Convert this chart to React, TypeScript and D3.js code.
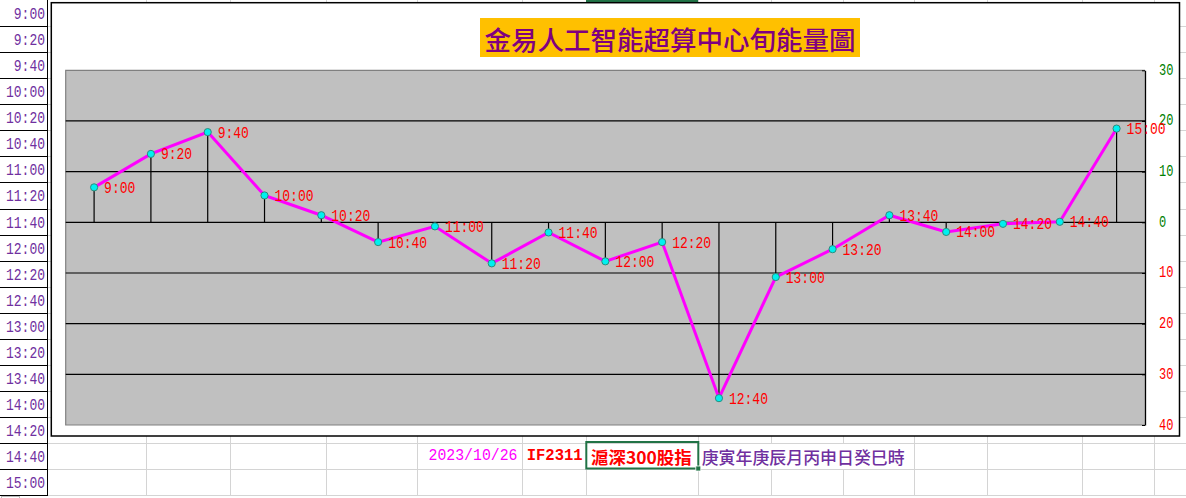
import React, { useEffect, useRef } from 'react';
import * as d3 from 'd3';

// time slots (also used as sheet row labels)
const times = [
  '9:00', '9:20', '9:40', '10:00', '10:20', '10:40', '11:00', '11:20', '11:40', '12:00',
  '12:20', '12:40', '13:00', '13:20', '13:40', '14:00', '14:20', '14:40', '15:00',
];
// energy per slot
const energy = [
  6.9, 13.5, 17.8, 5.3, 1.4, -3.9, -0.8, -8.1, -2.0, -7.7,
  -3.9, -34.7, -10.8, -5.3, 1.4, -1.9, -0.3, 0.1, 18.5,
];
const axisTicks = [30, 20, 10, 0, -10, -20, -30, -40];
const gridTicks = [20, 10, 0, -10, -20, -30];

const titleText = '金易人工智能超算中心旬能量圖';
const dateText = '2023/10/26';
const contractText = 'IF2311';
const indexText = '滬深300股指';
const ganzhiText = '庚寅年庚辰月丙申日癸巳時';

const W = 1186;
const H = 498;
const ROW_H = 26.07;
const sheetCols = [145.8, 229.6, 325.7, 416.8, 521.6, 586.3, 698.3, 770.8, 842.5, 914.3, 986.8, 1082, 1154];
const COL_A = 47.5;
const MONO = '"Liberation Mono", "DejaVu Sans Mono", monospace';
const CJK = '"Noto Sans CJK TC", "Noto Sans CJK SC", sans-serif';

const App: React.FC = () => {
  const svgRef = useRef<SVGSVGElement>(null);

  useEffect(() => {
    document.body.style.margin = '0';
    if (!svgRef.current) return;
    const svg = d3.select(svgRef.current);
    svg.selectAll('*').remove();

    svg.append('rect').attr('width', W).attr('height', H).attr('fill', '#fff');

    // spreadsheet grid
    const grid = svg.append('g').attr('shape-rendering', 'crispEdges');
    d3.range(1, 20).forEach(k => {
      const yy = Math.round(k * ROW_H) + 0.5;
      grid.append('line').attr('x1', COL_A).attr('x2', W).attr('y1', yy).attr('y2', yy)
        .attr('stroke', '#d4d4d4');
      grid.append('line').attr('x1', 0).attr('x2', COL_A).attr('y1', yy).attr('y2', yy)
        .attr('stroke', '#000');
    });
    sheetCols.forEach(cx => {
      const xx = Math.round(cx) + 0.5;
      d3.range(0, 19).forEach(r => {
        // text in row 17 overflows over these borders
        if (r === 17 && (cx === 770.8 || cx === 842.5)) return;
        grid.append('line').attr('x1', xx).attr('x2', xx)
          .attr('y1', r * ROW_H).attr('y2', (r + 1) * ROW_H)
          .attr('stroke', '#d4d4d4');
      });
    });
    grid.append('line').attr('x1', COL_A).attr('x2', COL_A).attr('y1', 0).attr('y2', 19 * ROW_H)
      .attr('stroke', '#000').attr('stroke-width', 1.5);
    grid.append('line').attr('x1', 586).attr('x2', 698).attr('y1', 0.75).attr('y2', 0.75)
      .attr('stroke', '#217346').attr('stroke-width', 1.5);
    grid.append('rect').attr('x', 1.5).attr('y', 496.5).attr('width', 18).attr('height', 6)
      .attr('fill', 'none').attr('stroke', '#bbb');

    // row labels in column A
    svg.append('g').selectAll('text').data(times).enter().append('text')
      .attr('x', 45).attr('y', (d, i) => i * ROW_H + 15)
      .attr('text-anchor', 'end').attr('dominant-baseline', 'central')
      .attr('textLength', d => d.length * 7.8).attr('lengthAdjust', 'spacingAndGlyphs')
      .style('font-family', MONO).style('font-size', '16px').style('fill', '#7030A0')
      .text(d => d);

    // chart frame
    svg.append('rect').attr('x', 51.3).attr('y', 2.7).attr('width', 1128.2).attr('height', 433.3)
      .attr('fill', '#fff').attr('stroke', '#000').attr('stroke-width', 1.5);

    // title
    svg.append('rect').attr('x', 480).attr('y', 18).attr('width', 380).attr('height', 39)
      .attr('fill', '#FFC000');
    svg.append('text').attr('x', 670).attr('y', 38)
      .attr('text-anchor', 'middle').attr('dominant-baseline', 'central')
      .attr('textLength', 371).attr('lengthAdjust', 'spacingAndGlyphs')
      .style('font-family', CJK).style('font-size', '26px').style('font-weight', 500)
      .style('fill', '#800080').text(titleText);

    // scales
    const left = 65.7;
    const right = 1145;
    const top = 70.3;
    const bottom = 425;
    const x = d3.scaleBand<string>().domain(times).range([left, right]);
    const cx = (t: string) => (x(t) as number) + x.bandwidth() / 2;
    const y = d3.scaleLinear().domain([-40, 30]).range([bottom, top]);

    const plot = svg.append('g');
    plot.append('rect').attr('x', left).attr('y', top).attr('width', right - left).attr('height', bottom - top)
      .attr('fill', '#C0C0C0');
    plot.append('path')
      .attr('d', `M${right},${top}H${left}V${bottom}H${right}`)
      .attr('fill', 'none').attr('stroke', '#808080').attr('stroke-width', 1.2);

    plot.selectAll('.grid').data(gridTicks).enter().append('line')
      .attr('class', 'grid')
      .attr('x1', left).attr('x2', right)
      .attr('y1', d => y(d)).attr('y2', d => y(d))
      .attr('stroke', '#000').attr('stroke-width', 1.2);

    // right axis
    const axis = plot.append('g')
      .attr('transform', `translate(${right},0)`)
      .call(
        d3.axisRight(y).tickValues(axisTicks).tickSizeInner(-3).tickSizeOuter(0).tickPadding(14)
          .tickFormat(d => String(Math.abs(d as number))),
      );
    axis.select('.domain').attr('stroke', '#000').attr('stroke-width', 1.3);
    axis.selectAll('.tick line').attr('stroke', '#000');
    axis.selectAll<SVGTextElement, number>('.tick text')
      .attr('text-anchor', 'start')
      .attr('dy', null)
      .attr('dominant-baseline', 'central')
      .attr('textLength', d => String(Math.abs(d)).length * 7.2)
      .attr('lengthAdjust', 'spacingAndGlyphs')
      .style('font-family', MONO).style('font-size', '16px')
      .style('fill', d => (d >= 0 ? '#008000' : '#FF0000'));

    const pts = times.map((t, i) => ({ t, v: energy[i] }));

    // drop lines to zero
    plot.selectAll('.drop').data(pts).enter().append('line')
      .attr('class', 'drop')
      .attr('x1', d => cx(d.t)).attr('x2', d => cx(d.t))
      .attr('y1', d => y(d.v)).attr('y2', y(0))
      .attr('stroke', '#000').attr('stroke-width', 1.2);

    const line = d3.line<{ t: string; v: number }>()
      .x(d => cx(d.t))
      .y(d => y(d.v));

    plot.append('path').datum(pts)
      .attr('d', line)
      .attr('fill', 'none').attr('stroke', '#FF00FF').attr('stroke-width', 3);

    plot.selectAll('.dot').data(pts).enter().append('circle')
      .attr('class', 'dot')
      .attr('cx', d => cx(d.t)).attr('cy', d => y(d.v)).attr('r', 3.6)
      .attr('fill', '#00F0F0').attr('stroke', '#2E8B7A').attr('stroke-width', 1);

    plot.selectAll('.lbl').data(pts).enter().append('text')
      .attr('class', 'lbl')
      .attr('x', d => cx(d.t) + 10).attr('y', d => y(d.v) + 1.5)
      .attr('dominant-baseline', 'central')
      .attr('textLength', d => d.t.length * 7.8).attr('lengthAdjust', 'spacingAndGlyphs')
      .style('font-family', MONO).style('font-size', '16px').style('fill', '#FF0000')
      .text(d => d.t);

    // info row under the chart
    const info = svg.append('g');
    info.append('text').attr('x', 517.5).attr('y', 456)
      .attr('text-anchor', 'end').attr('dominant-baseline', 'central')
      .attr('textLength', 89).attr('lengthAdjust', 'spacingAndGlyphs')
      .style('font-family', MONO).style('font-size', '16px')
      .style('fill', '#FF00FF').text(dateText);
    info.append('text').attr('x', 526.7).attr('y', 456)
      .attr('dominant-baseline', 'central')
      .attr('textLength', 56).attr('lengthAdjust', 'spacingAndGlyphs')
      .style('font-family', MONO).style('font-size', '16px').style('font-weight', 'bold')
      .style('fill', '#FF0000').text(contractText);
    info.append('text').attr('x', 591).attr('y', 456)
      .attr('dominant-baseline', 'central')
      .attr('textLength', 100.7).attr('lengthAdjust', 'spacingAndGlyphs')
      .style('font-family', CJK).style('font-size', '17px').style('font-weight', 'bold')
      .style('fill', '#FF0000').text(indexText);
    info.append('text').attr('x', 701.7).attr('y', 456)
      .attr('dominant-baseline', 'central')
      .attr('textLength', 203).attr('lengthAdjust', 'spacingAndGlyphs')
      .style('font-family', CJK).style('font-size', '17px').style('font-weight', 500)
      .style('fill', '#7030A0').text(ganzhiText);

    // selected cell
    info.append('rect').attr('x', 586.3).attr('y', 442).attr('width', 112).attr('height', 26.5)
      .attr('fill', 'none').attr('stroke', '#217346').attr('stroke-width', 2);
    info.append('rect').attr('x', 695.8).attr('y', 466).attr('width', 5).attr('height', 5)
      .attr('fill', '#217346').attr('stroke', '#fff').attr('stroke-width', 0.8);
  }, []);

  return <svg ref={svgRef} width={W} height={H} style={{ display: 'block' }}></svg>;
};

export default App;
